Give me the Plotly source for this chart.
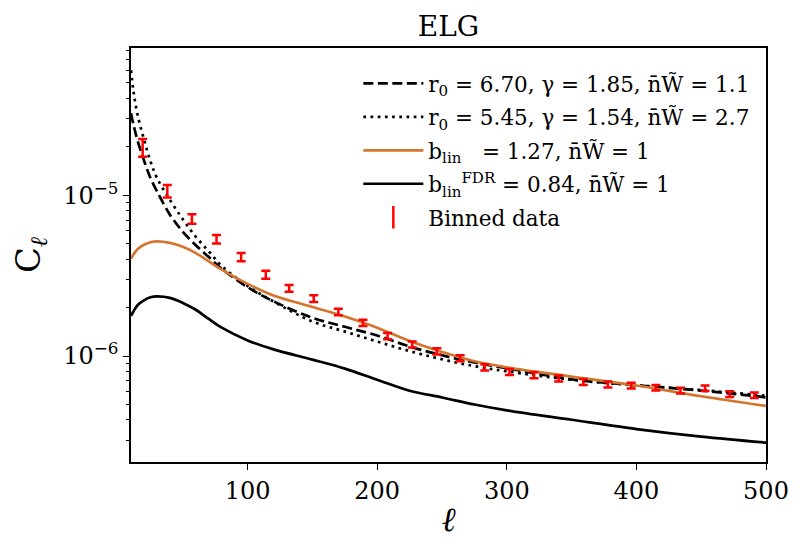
import plotly.graph_objects as go

ell_bins = [19, 38, 57, 76, 95, 114, 132, 151, 170, 189, 208, 227, 246,
            264, 283, 302, 321, 340, 359, 378, 396, 415, 434, 453, 472, 491]
cl_bins = [1.99e-5, 1.064e-5, 7.14e-6, 5.34e-6, 4.13e-6, 3.21e-6, 2.64e-6,
           2.28e-6, 1.88e-6, 1.61e-6, 1.33e-6, 1.18e-6, 1.07e-6, 9.7e-7,
           8.5e-7, 7.95e-7, 7.6e-7, 7.25e-7, 6.9e-7, 6.65e-7, 6.55e-7,
           6.35e-7, 6.1e-7, 6.3e-7, 5.8e-7, 5.7e-7]
cl_err = [2.5e-6, 9.5e-7, 4.8e-7, 3.3e-7, 2.4e-7, 1.8e-7, 1.3e-7, 1.1e-7,
          8.5e-8, 7.2e-8, 6.0e-8, 5.2e-8, 4.7e-8, 4.2e-8, 3.7e-8, 3.4e-8,
          3.2e-8, 3.1e-8, 2.9e-8, 2.8e-8, 2.7e-8, 2.6e-8, 2.5e-8, 2.5e-8,
          2.4e-8, 2.3e-8]

# model curves
ell_model = [10, 12, 15, 20, 25, 30, 40, 50, 60, 70, 80, 100, 120, 150,
             175, 200, 225, 250, 275, 300, 350, 400, 450, 500]
cl_powerlaw_a = [3.24e-5, 2.73e-5, 2.20e-5, 1.65e-5, 1.28e-5, 1.06e-5,
                 7.58e-6, 5.93e-6, 4.89e-6, 4.13e-6, 3.49e-6, 2.68e-6,
                 2.19e-6, 1.73e-6, 1.52e-6, 1.34e-6, 1.146e-6, 1.01e-6,
                 9.12e-7, 8.39e-7, 7.16e-7, 6.58e-7, 6.09e-7, 5.53e-7]
cl_powerlaw_b = [6.0e-5, 4.38e-5, 3.19e-5, 2.23e-5, 1.63e-5, 1.285e-5,
                 9.38e-6, 7.09e-6, 5.52e-6, 4.48e-6, 3.63e-6, 2.73e-6,
                 2.18e-6, 1.64e-6, 1.42e-6, 1.23e-6, 1.073e-6, 9.54e-7,
                 8.65e-7, 8.03e-7, 7.11e-7, 6.57e-7, 6.14e-7, 5.65e-7]
cl_blin = [4.03e-6, 4.29e-6, 4.61e-6, 4.92e-6, 5.10e-6, 5.17e-6, 5.06e-6,
           4.78e-6, 4.37e-6, 3.88e-6, 3.45e-6, 2.81e-6, 2.38e-6, 2.02e-6,
           1.76e-6, 1.50e-6, 1.24e-6, 1.06e-6, 9.27e-7, 8.5e-7, 7.45e-7,
           6.55e-7, 5.62e-7, 4.89e-7]
cl_blin_fdr = [1.78e-6, 1.90e-6, 2.07e-6, 2.22e-6, 2.32e-6, 2.35e-6,
               2.30e-6, 2.14e-6, 1.94e-6, 1.70e-6, 1.50e-6, 1.25e-6,
               1.10e-6, 9.5e-7, 8.35e-7, 7.11e-7, 6.08e-7, 5.52e-7,
               4.99e-7, 4.59e-7, 4.01e-7, 3.51e-7, 3.15e-7, 2.89e-7]

x_ticks = [100, 200, 300, 400, 500]
y_ticks = [1e-6, 1e-5]
y_ticktext = ["10<sup>\u22126</sup>", "10<sup>\u22125</sup>"]
y_minor = [3e-7, 4e-7, 5e-7, 6e-7, 7e-7, 8e-7, 9e-7,
           2e-6, 3e-6, 4e-6, 5e-6, 6e-6, 7e-6, 8e-6, 9e-6,
           2e-5, 3e-5, 4e-5, 5e-5, 6e-5, 7e-5, 8e-5]

NW = "n\u0304W\u0303"
SERIF = "DejaVu Serif"
ORANGE = "#d5742c"

fig = go.Figure()

fig.add_trace(go.Scatter(
    x=ell_model, y=cl_powerlaw_a, mode="lines", line_shape="spline",
    line=dict(color="black", width=2.7, dash="10px,4.5px"),
    name=f"r<sub>0</sub> = 6.70, \u03b3 = 1.85, {NW} = 1.1",
    legendgroup="a"))
fig.add_trace(go.Scatter(
    x=ell_model, y=cl_powerlaw_b, mode="lines", line_shape="spline",
    line=dict(color="black", width=2.7, dash="2.7px,4.5px"),
    name=f"r<sub>0</sub> = 5.45, \u03b3 = 1.54, {NW} = 2.7",
    legendgroup="b"))
fig.add_trace(go.Scatter(
    x=ell_model, y=cl_blin, mode="lines", line_shape="spline",
    line=dict(color=ORANGE, width=2.7),
    name=f"b<sub>lin</sub>\u00a0\u00a0\u00a0= 1.27, {NW} = 1",
    legendgroup="c"))
fig.add_trace(go.Scatter(
    x=ell_model, y=cl_blin_fdr, mode="lines", line_shape="spline",
    line=dict(color="black", width=2.7),
    name=f"b<sub>lin</sub><sup>FDR</sup> = 0.84, {NW} = 1",
    legendgroup="d"))

# binned data with error bars
fig.add_trace(go.Scatter(
    x=ell_bins, y=cl_bins, mode="markers",
    marker=dict(size=2, color="rgba(0,0,0,0)"),
    error_y=dict(type="data", array=cl_err, color="red",
                 thickness=2.5, width=4.5),
    showlegend=False))
# legend entry for the binned data
fig.add_trace(go.Scatter(
    x=[None], y=[None], mode="markers", name="Binned data",
    marker=dict(symbol="line-ns-open", size=16, color="red",
                line=dict(width=2.5, color="red")),
    legendgroup="e"))

axis_common = dict(showline=True, linecolor="black", linewidth=1.5,
                   mirror=True, ticks="outside", ticklen=6, tickwidth=1.2,
                   tickcolor="black", showgrid=False, zeroline=False,
                   tickfont=dict(family=SERIF, size=24, color="black"))

# page body has an 8px margin, so the figure is sized/offset to compensate
fig.update_layout(
    width=798, height=547,
    margin=dict(l=123, r=40, t=40, b=93),
    plot_bgcolor="white", paper_bgcolor="white",
    font=dict(family=SERIF, color="black"),
    title=dict(text="ELG", x=0.5, xref="paper", xanchor="center",
               y=1 - 18 / 547, yref="container", yanchor="middle",
               font=dict(family=SERIF, size=28, color="black")),
    xaxis=dict(range=[10, 500], tickvals=x_ticks,
               title=dict(text="<i>\u2113</i>", standoff=4,
                          font=dict(family=SERIF, size=34)),
               **axis_common),
    yaxis=dict(type="log", range=[-6.6596, -4.0834], tickvals=y_ticks,
               ticktext=y_ticktext,
               minor=dict(tickvals=y_minor, ticks="outside", ticklen=3.5,
                          tickwidth=1, tickcolor="black", showgrid=False),
               title=dict(text="C<sub><i>\u2113</i></sub>", standoff=14,
                          font=dict(family=SERIF, size=34)),
               **axis_common),
    legend=dict(x=0.358, y=0.964, xanchor="left", yanchor="top",
                bgcolor="rgba(255,255,255,0)", borderwidth=0,
                font=dict(family=SERIF, size=21.5, color="black"),
                tracegroupgap=2.5, itemwidth=60, traceorder="grouped"),
)

fig.write_html("out.html")
